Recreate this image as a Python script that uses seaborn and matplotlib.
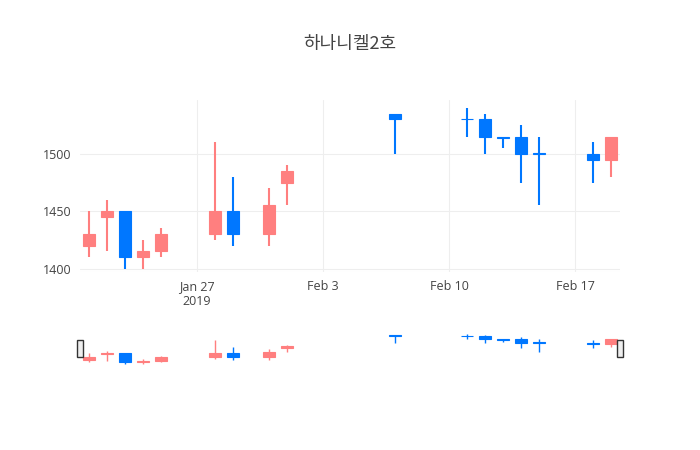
import matplotlib
matplotlib.use("Agg")
import matplotlib.pyplot as plt
import matplotlib.dates as mdates
import seaborn as sns
import pandas as pd
import numpy as np

dates = ["2019-01-21","2019-01-22","2019-01-23","2019-01-24","2019-01-25","2019-01-28","2019-01-29",
         "2019-01-31","2019-02-01","2019-02-07","2019-02-11","2019-02-12","2019-02-13","2019-02-14",
         "2019-02-15","2019-02-18","2019-02-19"]
opens  = [1420,1445,1450,1410,1415,1430,1450,1430,1475,1535,1530,1530,1515,1515,1500,1500,1495]
highs  = [1450,1460,1450,1425,1435,1510,1480,1470,1490,1535,1540,1535,1515,1525,1515,1510,1515]
lows   = [1410,1415,1400,1400,1410,1425,1420,1420,1455,1500,1515,1500,1505,1475,1455,1475,1480]
closes = [1430,1450,1410,1415,1430,1450,1430,1455,1485,1530,1530,1515,1514,1500,1500,1495,1515]
title = "하나니켈2호"

df = pd.DataFrame({"date": pd.to_datetime(dates), "open": opens, "high": highs, "low": lows, "close": closes})
df["x"] = mdates.date2num(df["date"])
UP, DOWN = "#FF7F7F", "#0077FF"

sns.set_style("white")
plt.rcParams['font.family'] = ['Open Sans', 'Noto Sans CJK KR', 'DejaVu Sans']

fig = plt.figure(figsize=(7, 4.5), dpi=100)
ax = fig.add_axes([80/700, 1-272/450, 540/700, 172/450])
axs = fig.add_axes([80/700, 1-366/450, 540/700, 34/450])

def draw(a, lw):
    for _, r in df.iterrows():
        c = UP if r.close > r.open else DOWN
        a.vlines(r.x, r.low, r.high, color=c, lw=lw, zorder=3)
        lo, hi = min(r.open, r.close), max(r.open, r.close)
        h = max(hi - lo, 0.6)
        a.bar(r.x, h, bottom=lo, width=0.62, color=c, edgecolor=c, lw=0.8, zorder=3)

draw(ax, 1.5)
draw(axs, 1.0)

x0 = mdates.date2num(pd.Timestamp("2019-01-20")) + 0.5
x1 = mdates.date2num(pd.Timestamp("2019-02-19")) + 0.5
for a in (ax, axs):
    a.set_xlim(x0, x1)
    for s in a.spines.values():
        s.set_visible(False)
ax.set_ylim(1397, 1547)
ax.set_yticks([1400, 1450, 1500])
ax.grid(True, color="#eeeeee", lw=0.8, zorder=0)
ax.set_axisbelow(True)
ticks = [mdates.date2num(pd.Timestamp(d)) for d in ["2019-01-27","2019-02-03","2019-02-10","2019-02-17"]]
ax.set_xticks(ticks)
ax.set_xticklabels(["Jan 27\n2019", "Feb 3", "Feb 10", "Feb 17"])
ax.tick_params(length=0, labelsize=9, colors="#444444", pad=6)
ax.axhline(1397, color="#eeeeee", lw=0.8)

axs.set_ylim(1390, 1550)
axs.set_xticks([]); axs.set_yticks([])
for xx in (x0, x1):
    axs.add_patch(plt.Rectangle((xx - 0.17, 1430), 0.34, 80, facecolor="#eeeeee",
                                edgecolor="#333333", lw=1, clip_on=False, zorder=5))

fig.text(0.5, 1-44/450, title, ha="center", va="center", fontsize=13, color="#444444",
         family=['Noto Sans CJK KR', 'DejaVu Sans'])
fig.savefig("out.png", dpi=100, facecolor="white")
